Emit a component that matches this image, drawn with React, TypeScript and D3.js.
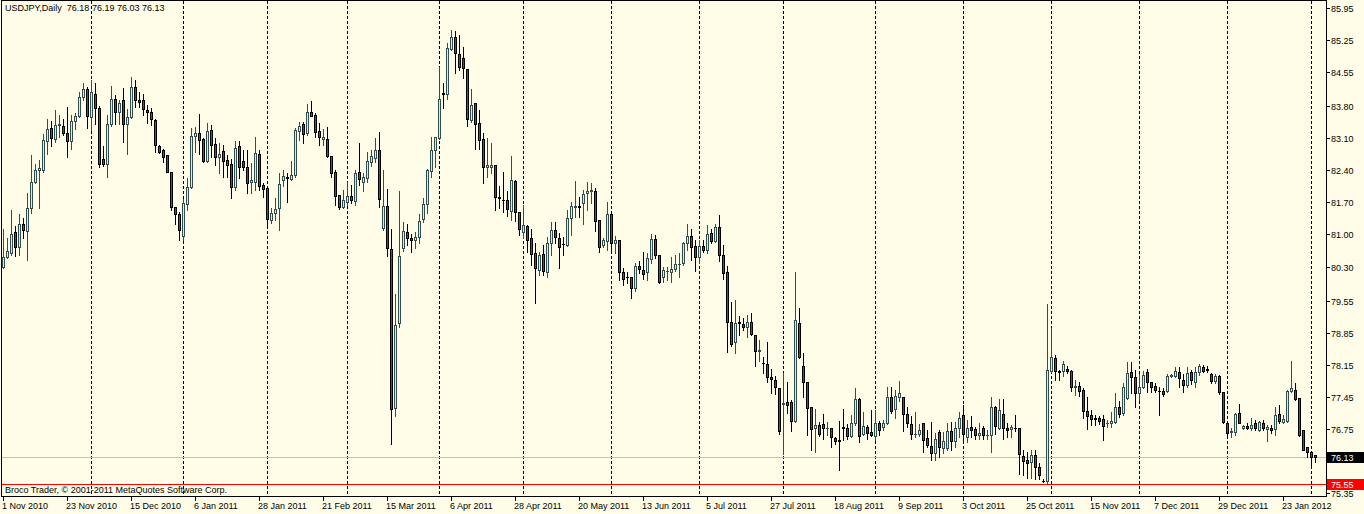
import React from "react";
import * as d3 from "d3";

// ---- data (USDJPY daily) ----
const openP = [
  80.30, 80.51, 80.60, 81.05, 80.72, 81.22, 81.08, 81.57, 82.15, 82.42,
  82.42, 83.05, 83.32, 83.09, 83.39, 83.37, 83.21, 83.05, 83.49, 83.59,
  84.01, 84.17, 83.57, 84.08, 83.76, 82.64, 82.55, 83.41, 83.97, 83.68,
  83.94, 83.41, 83.56, 84.22, 83.94, 83.93, 83.72, 83.67, 83.50, 82.94,
  82.85, 82.74, 82.36, 81.61, 81.45, 80.97, 81.66, 82.03, 83.16, 83.21,
  83.08, 82.61, 83.28, 82.98, 82.70, 82.82, 82.63, 82.53, 82.03, 82.93,
  82.61, 82.47, 82.14, 82.14, 82.77, 82.08, 82.01, 81.32, 81.46, 81.57,
  82.19, 82.26, 82.21, 82.29, 83.27, 83.41, 83.21, 83.67, 83.61, 83.26,
  83.08, 83.08, 82.72, 82.37, 81.86, 81.61, 81.70, 81.84, 81.74, 82.37,
  82.15, 82.24, 82.59, 82.68, 82.84, 81.15, 81.62, 80.68, 77.20, 79.06,
  80.71, 81.05, 80.92, 80.87, 80.94, 81.33, 81.66, 82.39, 82.84, 83.11,
  84.09, 84.06, 85.05, 85.32, 84.94, 84.85, 84.61, 83.50, 83.87, 83.43,
  83.08, 82.47, 82.48, 82.51, 81.82, 81.76, 81.75, 81.52, 82.17, 81.50,
  81.05, 81.19, 80.92, 80.59, 80.22, 80.57, 80.19, 80.81, 81.10, 80.92,
  80.80, 80.77, 81.35, 81.60, 81.62, 81.68, 81.91, 81.94, 81.96, 81.32,
  80.76, 80.86, 81.44, 80.82, 80.88, 80.19, 80.07, 80.06, 79.84, 80.31,
  80.22, 80.17, 80.46, 80.90, 80.55, 80.08, 80.20, 80.19, 80.25, 80.35,
  80.38, 80.82, 80.97, 80.75, 80.50, 80.75, 80.65, 81.04, 80.86, 81.17,
  80.55, 80.17, 79.08, 78.64, 79.08, 79.04, 78.98, 79.09, 78.80, 78.45,
  78.20, 78.18, 77.89, 77.83, 77.64, 77.30, 77.34, 77.34, 76.92, 79.06,
  78.13, 77.78, 77.22, 76.76, 76.83, 76.85, 76.77, 76.76, 76.55, 76.50,
  76.79, 76.78, 76.60, 76.89, 77.40, 76.64, 76.80, 76.69, 76.60, 76.87,
  76.80, 76.87, 77.44, 77.18, 77.44, 77.44, 77.08, 76.86, 76.64, 76.65,
  76.89, 76.55, 76.38, 76.23, 76.69, 76.33, 76.33, 76.71, 76.49, 76.76,
  77.05, 76.57, 76.80, 76.75, 76.62, 76.78, 76.61, 76.62, 77.22, 76.78,
  77.08, 76.78, 76.74, 76.78, 76.78, 76.16, 76.07, 76.03, 76.18, 75.91,
  75.62, 75.62, 78.02, 78.29, 78.02, 78.02, 78.07, 78.02, 77.67, 77.69,
  77.60, 77.14, 77.05, 76.99, 76.98, 76.96, 76.88, 76.87, 76.91, 77.22,
  77.09, 77.42, 77.99, 77.89, 77.53, 77.66, 78.00, 77.78, 77.69, 77.59,
  77.59, 77.59, 77.91, 77.91, 78.00, 77.83, 77.71, 77.99, 77.78, 78.00,
  78.11, 78.07, 77.95, 77.80, 77.91, 77.56, 76.87, 76.68, 76.69, 77.09,
  76.76, 76.81, 76.78, 76.89, 76.73, 76.89, 76.74, 76.78, 76.74, 77.08,
  76.91, 76.93, 77.59, 77.61, 77.42, 76.73, 76.35, 76.25, 76.18,
];
const highP = [
  81.11, 80.92, 81.53, 81.18, 81.45, 81.37, 81.90, 82.74, 82.55, 82.63,
  83.20, 83.52, 83.49, 83.72, 83.61, 83.52, 83.79, 83.61, 83.65, 84.12,
  84.32, 84.22, 84.38, 84.30, 83.80, 82.93, 83.61, 84.24, 84.05, 83.95,
  84.20, 83.74, 84.45, 84.38, 84.12, 84.07, 83.83, 83.76, 83.52, 82.96,
  82.86, 82.74, 82.37, 81.61, 81.50, 81.77, 82.23, 83.32, 83.34, 83.63,
  83.10, 83.43, 83.39, 83.10, 82.99, 82.96, 82.74, 82.64, 83.05, 83.05,
  82.85, 82.85, 82.56, 83.14, 82.85, 82.12, 82.01, 81.57, 81.79, 82.34,
  82.41, 82.34, 82.61, 83.32, 83.45, 83.45, 83.85, 83.92, 83.65, 83.43,
  83.30, 83.36, 82.72, 82.41, 81.86, 81.97, 82.15, 82.08, 82.41, 82.99,
  82.34, 82.81, 82.85, 83.10, 83.23, 82.41, 81.99, 81.12, 79.69, 81.94,
  81.28, 81.22, 81.00, 81.06, 81.44, 81.79, 82.43, 83.14, 83.14, 84.67,
  84.32, 85.18, 85.47, 85.45, 85.35, 85.10, 84.61, 84.19, 83.87, 83.72,
  83.21, 83.10, 82.99, 82.52, 82.06, 82.37, 81.96, 82.72, 82.19, 81.50,
  81.64, 81.21, 81.13, 80.81, 80.62, 80.77, 80.95, 81.28, 81.28, 81.03,
  80.95, 81.54, 81.70, 82.17, 81.81, 81.97, 82.14, 82.12, 82.01, 81.32,
  80.92, 81.70, 81.46, 80.97, 80.88, 80.26, 80.19, 80.06, 80.37, 80.43,
  80.62, 80.59, 81.02, 80.99, 80.55, 80.30, 80.30, 80.50, 80.55, 80.59,
  80.83, 81.23, 81.13, 80.89, 80.89, 80.89, 81.21, 81.11, 81.23, 81.43,
  80.77, 80.31, 79.53, 79.57, 79.22, 79.17, 79.24, 79.28, 78.80, 78.69,
  78.33, 78.64, 78.07, 77.91, 77.64, 77.98, 77.78, 77.38, 80.19, 79.39,
  78.40, 77.78, 77.22, 77.18, 76.91, 77.07, 76.91, 76.76, 76.57, 76.93,
  77.18, 76.86, 77.05, 77.64, 77.42, 77.11, 76.83, 77.16, 77.16, 76.93,
  76.95, 77.67, 77.67, 77.60, 77.80, 77.44, 77.24, 77.03, 77.11, 76.86,
  76.89, 76.73, 76.91, 76.67, 76.73, 76.69, 76.87, 76.91, 76.91, 77.13,
  77.27, 76.95, 77.03, 76.80, 76.89, 76.81, 76.73, 77.44, 77.25, 77.40,
  77.40, 76.87, 76.84, 77.05, 76.78, 76.29, 76.25, 76.29, 76.29, 76.00,
  75.65, 79.48, 78.95, 78.37, 78.04, 78.23, 78.12, 78.04, 77.83, 77.78,
  77.64, 77.44, 77.16, 77.05, 77.03, 77.05, 76.95, 77.11, 77.54, 77.35,
  77.76, 78.22, 78.22, 78.04, 77.96, 78.02, 78.05, 77.78, 77.75, 77.67,
  77.64, 77.95, 77.96, 78.11, 78.11, 77.96, 78.11, 78.04, 78.11, 78.17,
  78.15, 78.13, 77.98, 77.95, 77.93, 77.56, 76.89, 76.76, 77.10, 77.29,
  76.84, 76.87, 76.98, 76.94, 76.92, 76.94, 76.84, 76.84, 77.24, 77.27,
  77.05, 77.60, 78.24, 77.75, 77.42, 76.73, 76.36, 76.25, 76.19,
];
const lowP = [
  80.26, 80.48, 80.55, 80.54, 80.55, 80.92, 80.44, 81.48, 82.12, 81.57,
  82.37, 82.77, 82.93, 83.03, 83.14, 83.17, 82.70, 82.86, 83.31, 83.56,
  83.95, 83.32, 83.28, 83.41, 82.47, 82.50, 82.26, 83.38, 83.41, 83.41,
  83.03, 82.77, 83.54, 83.79, 83.79, 83.61, 83.43, 83.39, 82.81, 82.79,
  82.59, 82.36, 81.54, 81.22, 80.87, 80.88, 81.54, 82.01, 82.81, 82.77,
  82.59, 82.59, 82.70, 82.52, 82.34, 82.26, 82.26, 81.79, 81.97, 82.23,
  82.40, 81.91, 81.91, 81.97, 81.97, 81.83, 81.17, 81.26, 81.32, 81.10,
  82.05, 81.72, 82.19, 82.25, 83.06, 83.01, 83.17, 83.58, 83.14, 82.96,
  82.96, 82.70, 82.26, 81.64, 81.55, 81.57, 81.64, 81.68, 81.65, 82.08,
  81.95, 82.14, 82.50, 82.59, 81.59, 81.10, 80.54, 76.41, 77.04, 78.98,
  80.64, 80.76, 80.62, 80.70, 80.81, 81.28, 81.46, 82.26, 82.48, 83.09,
  83.77, 83.96, 85.03, 84.52, 84.59, 84.43, 83.38, 83.45, 82.87, 82.87,
  82.12, 82.26, 82.34, 81.54, 81.57, 81.50, 81.40, 81.32, 81.30, 80.99,
  80.92, 80.62, 80.33, 79.51, 80.11, 80.11, 80.08, 80.55, 80.81, 80.27,
  80.55, 80.75, 80.99, 81.39, 81.39, 81.24, 81.54, 81.68, 81.08, 80.62,
  80.73, 80.66, 80.59, 80.59, 80.00, 79.90, 79.93, 79.62, 79.77, 80.16,
  80.03, 80.00, 80.37, 80.48, 79.95, 79.97, 80.00, 79.97, 80.21, 80.06,
  80.33, 80.66, 80.44, 80.21, 80.38, 80.62, 80.59, 80.81, 80.84, 80.43,
  80.03, 78.44, 78.56, 78.40, 78.80, 78.91, 78.75, 78.80, 78.13, 78.24,
  77.98, 77.78, 77.53, 77.51, 76.65, 76.20, 77.09, 76.71, 76.91, 78.29,
  77.44, 76.62, 76.29, 76.25, 76.60, 76.54, 76.62, 76.35, 76.41, 75.85,
  76.51, 76.54, 76.57, 76.84, 76.47, 76.62, 76.52, 76.60, 76.51, 76.62,
  76.73, 76.86, 77.09, 77.00, 77.35, 76.71, 76.80, 76.54, 76.58, 76.60,
  76.25, 76.36, 76.07, 76.07, 76.14, 76.23, 76.30, 76.29, 76.35, 76.57,
  76.47, 76.47, 76.57, 76.54, 76.52, 76.52, 76.54, 76.25, 76.65, 76.74,
  76.54, 76.58, 76.58, 76.71, 75.77, 75.74, 75.67, 75.67, 75.65, 75.65,
  75.58, 75.55, 78.00, 77.83, 77.83, 77.91, 77.98, 77.59, 77.49, 77.46,
  76.98, 76.74, 76.84, 76.84, 76.86, 76.51, 76.79, 76.80, 76.87, 77.02,
  77.05, 77.40, 77.53, 77.22, 77.38, 77.64, 77.56, 77.56, 77.56, 77.05,
  77.46, 77.56, 77.89, 77.88, 77.67, 77.56, 77.67, 77.73, 77.67, 77.93,
  78.00, 78.00, 77.75, 77.76, 77.51, 76.89, 76.57, 76.57, 76.62, 76.87,
  76.74, 76.74, 76.73, 76.73, 76.71, 76.73, 76.49, 76.67, 76.62, 76.87,
  76.87, 76.90, 77.56, 77.38, 76.60, 76.29, 76.14, 75.94, 76.03,
];
const closeP = [
  80.51, 80.63, 81.02, 80.72, 81.22, 81.09, 81.57, 82.14, 82.42, 82.46,
  83.06, 83.30, 83.10, 83.39, 83.41, 83.21, 83.05, 83.49, 83.59, 84.00,
  84.19, 83.60, 84.11, 83.77, 82.55, 82.55, 83.41, 83.97, 83.68, 83.88,
  83.41, 83.56, 84.22, 83.95, 83.90, 83.74, 83.67, 83.52, 82.96, 82.81,
  82.70, 82.37, 81.59, 81.44, 81.10, 81.68, 82.03, 83.15, 83.21, 83.07,
  82.61, 83.26, 82.95, 82.70, 82.77, 82.61, 82.52, 82.03, 82.90, 82.48,
  82.47, 82.13, 82.19, 82.79, 82.06, 81.99, 81.33, 81.48, 81.56, 82.10,
  82.28, 82.24, 82.30, 83.28, 83.37, 83.20, 83.67, 83.60, 83.25, 83.12,
  83.12, 82.72, 82.35, 81.84, 81.61, 81.75, 81.84, 81.75, 82.34, 82.21,
  82.25, 82.61, 82.72, 82.84, 81.77, 81.62, 80.70, 77.18, 79.02, 80.53,
  81.08, 80.92, 80.87, 80.94, 81.29, 81.66, 82.40, 82.84, 83.13, 83.97,
  84.08, 85.08, 85.32, 84.96, 84.67, 84.63, 83.52, 83.84, 83.41, 83.06,
  82.48, 82.52, 82.51, 81.81, 81.80, 81.75, 81.55, 82.19, 81.50, 81.13,
  81.21, 80.89, 80.57, 80.26, 80.55, 80.21, 80.81, 81.10, 80.94, 80.72,
  80.79, 81.35, 81.62, 81.62, 81.60, 81.89, 81.95, 81.97, 81.30, 80.73,
  80.88, 81.44, 80.81, 80.88, 80.19, 80.03, 80.06, 79.84, 80.31, 80.25,
  80.14, 80.48, 80.90, 80.55, 79.97, 80.22, 80.21, 80.25, 80.35, 80.36,
  80.82, 80.97, 80.73, 80.50, 80.75, 80.65, 81.02, 80.86, 81.17, 80.55,
  80.15, 79.09, 78.61, 79.06, 79.07, 78.98, 79.09, 78.82, 78.46, 78.47,
  78.19, 77.89, 77.84, 77.66, 76.71, 77.32, 77.27, 76.93, 79.13, 78.33,
  77.78, 77.20, 76.74, 76.83, 76.65, 76.76, 76.78, 76.58, 76.48, 76.49,
  76.78, 76.60, 76.89, 77.40, 76.60, 76.81, 76.67, 76.62, 76.87, 76.73,
  76.87, 77.44, 77.15, 77.47, 77.54, 77.07, 76.87, 76.65, 76.65, 76.73,
  76.51, 76.40, 76.23, 76.54, 76.35, 76.49, 76.71, 76.49, 76.76, 77.00,
  76.64, 76.78, 76.73, 76.62, 76.66, 76.62, 76.62, 77.22, 76.81, 77.16,
  76.78, 76.73, 76.80, 76.77, 76.20, 76.06, 76.01, 76.18, 75.91, 75.74,
  75.61, 78.04, 78.32, 78.02, 78.00, 78.16, 78.02, 77.67, 77.68, 77.59,
  77.14, 77.04, 76.97, 76.97, 76.92, 76.82, 76.89, 76.93, 77.22, 77.08,
  77.67, 77.97, 77.89, 77.53, 77.67, 77.93, 77.78, 77.67, 77.60, 77.58,
  77.51, 77.91, 77.93, 78.02, 77.86, 77.71, 77.98, 77.83, 78.00, 78.13,
  78.02, 78.04, 77.80, 77.91, 77.56, 76.91, 76.67, 76.70, 77.08, 76.89,
  76.81, 76.78, 76.84, 76.76, 76.91, 76.76, 76.80, 76.73, 77.05, 76.93,
  76.96, 77.59, 77.64, 77.40, 76.62, 76.30, 76.25, 76.14, 76.13,
];

const priceTicks = [85.95, 85.25, 84.55, 83.8, 83.1, 82.4, 81.7, 81.0, 80.3, 79.55, 78.85, 78.15, 77.45, 76.75, 76.05, 75.35];
const priceDomain = [75.35, 85.95];
const bidPrice = 76.13;
const linePrice = 75.55;
const firstSession = "2010-11-01";
const extraSessions = ["2011-10-30"];
const closedSessions = ["2012-01-02"];
const labelEvery = 16;
const titleText = "USDJPY,Daily  76.18 76.19 76.03 76.13";
const footerText = "Broco Trader, \u00a9 2001-2011 MetaQuotes Software Corp.";

function sessionDates(count: number): Date[] {
  const key = d3.utcFormat("%Y-%m-%d");
  const start = d3.utcParse("%Y-%m-%d")(firstSession) as Date;
  const days = d3.utcDay.range(start, d3.utcDay.offset(start, 600));
  return days
    .filter((d) => {
      const k = key(d);
      const wd = d.getUTCDay();
      return (extraSessions.includes(k) || (wd > 0 && wd < 6)) && !closedSessions.includes(k);
    })
    .slice(0, count);
}

const FONT = "'Liberation Sans', Arial, sans-serif";
const BG = "#FFFDE8";
const BULL_FILL = "#EEEEA8";
const BULL_LINE = "#2F4F4F";
const BEAR_FILL = "#555555";
const BEAR_LINE = "#000000";

export default function App() {
  const n = openP.length;
  const dates = sessionDates(n);
  const W = 1364;
  const H = 514;
  const frameL = 1.5, frameT = 0.5, frameR = 1326.5, frameB = 496.5;

  const x = d3.scaleLinear().domain([0, n - 1]).range([3.5, 3.5 + 4 * (n - 1)]);
  const y = d3.scaleLinear().domain(priceDomain).range([493, 8]);
  const ry = (p: number) => Math.round(y(p));
  const fmt = d3.utcFormat("%-d %b %Y");

  const separators: number[] = [];
  for (let i = 1; i < n; i++) {
    if (dates[i].getUTCMonth() !== dates[i - 1].getUTCMonth()) separators.push(i);
  }
  const labelIdx = d3.range(0, n, labelEvery);

  const candles = d3.range(n).map((i) => {
    const o = openP[i], c = closeP[i];
    const h = Math.max(highP[i], o, c), l = Math.min(lowP[i], o, c);
    const bull = c >= o;
    const xc = x(i);
    const top = ry(Math.max(o, c));
    const bot = ry(Math.min(o, c));
    const line = bull ? BULL_LINE : BEAR_LINE;
    return (
      <g key={i}>
        <line x1={xc} x2={xc} y1={ry(h)} y2={ry(l) + 1} stroke={line} strokeWidth={1} />
        {bot - top < 1 ? (
          <line x1={xc - 1.5} x2={xc + 1.5} y1={top + 0.5} y2={top + 0.5} stroke={line} strokeWidth={1} />
        ) : (
          <rect x={xc - 1} y={top + 0.5} width={2} height={bot - top} fill={bull ? BULL_FILL : BEAR_FILL} stroke={line} strokeWidth={1} />
        )}
      </g>
    );
  });

  const bidY = ry(bidPrice) + 0.5;
  const lineY = ry(linePrice) + 0.5;
  // price labels hidden behind the bid / line boxes are not drawn
  const visibleTicks = priceTicks.filter(
    (p) => Math.abs(ry(p) - ry(bidPrice)) >= 9 && Math.abs(ry(p) - ry(linePrice)) >= 9
  );

  return (
    <svg
      width={W}
      height={H}
      style={{ position: "absolute", left: 0, top: 0, display: "block" }}
      fontFamily={FONT}
      fontSize={9}
    >
      <rect x={0} y={0} width={W} height={H} fill={BG} />
      <g shapeRendering="crispEdges">
        {separators.map((s) => (
          <line key={s} x1={x(s)} x2={x(s)} y1={frameT} y2={frameB} stroke="#000" strokeWidth={1} strokeDasharray="3,2" />
        ))}
        <line x1={frameL} x2={frameR} y1={bidY} y2={bidY} stroke="#C0C0C0" strokeWidth={1} />
        <line x1={frameL} x2={frameR} y1={lineY} y2={lineY} stroke="#FF0000" strokeWidth={1} />
        {candles}
        <rect x={frameL} y={frameT} width={frameR - frameL} height={frameB - frameT} fill="none" stroke="#000" strokeWidth={1} />
        {priceTicks.map((p) => (
          <line key={p} x1={frameR} x2={frameR + 3} y1={ry(p) + 0.5} y2={ry(p) + 0.5} stroke="#000" strokeWidth={1} />
        ))}
        {labelIdx.map((i) => (
          <line key={i} x1={x(i)} x2={x(i)} y1={frameB} y2={frameB + 4} stroke="#000" strokeWidth={1} />
        ))}
      </g>
      {visibleTicks.map((p) => (
        <text key={p} x={1331} y={ry(p) + 3.5} fill="#000">
          {p.toFixed(2)}
        </text>
      ))}
      <g>
        <rect x={1327} y={ry(bidPrice) - 5} width={37} height={11} fill="#000" />
        <text x={1331} y={ry(bidPrice) + 3.5} fill="#fff">{bidPrice.toFixed(2)}</text>
        <rect x={1327} y={ry(linePrice) - 5} width={37} height={11} fill="#FF0000" />
        <text x={1331} y={ry(linePrice) + 3.5} fill="#fff">{linePrice.toFixed(2)}</text>
      </g>
      {labelIdx.map((i) => (
        <text key={i} x={x(i) - 1.5} y={508.5} fill="#000">
          {fmt(dates[i])}
        </text>
      ))}
      <text x={5} y={11} fill="#000" style={{ whiteSpace: "pre" }}>{titleText}</text>
      <text x={5} y={492.5} fill="#000">{footerText}</text>
    </svg>
  );
}
